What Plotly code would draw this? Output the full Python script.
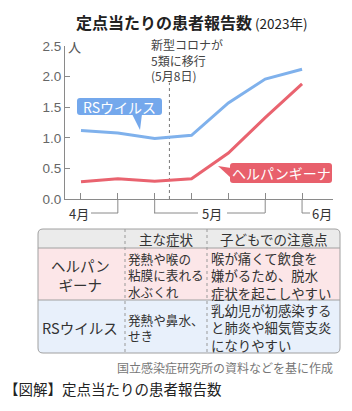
import plotly.graph_objects as go

# ---------------- data ----------------
weeks = [0, 1, 2, 3, 4, 5, 6]
rs_virus = [1.12, 1.08, 0.99, 1.04, 1.57, 1.96, 2.12]
herpangina = [0.28, 0.33, 0.29, 0.33, 0.75, 1.33, 1.88]
y_ticks = [0.0, 0.5, 1.0, 1.5, 2.0, 2.5]
y_tick_text = ["0.0", "0.5", "1.0", "1.5", "2.0", "2.5"]
month_labels = ["4月", "5月", "6月"]
covid_change_week = 2.4
covid_note = ["新型コロナが", "5類に移行", "(5月8日)"]
series_names = ["RSウイルス", "ヘルパンギーナ"]
table_header = ["", "主な症状", "子どもでの注意点"]
table_rows = [
    [["ヘルパン", "ギーナ"], ["発熱や喉の", "粘膜に表れる", "水ぶくれ"],
     ["喉が痛くて飲食を", "嫌がるため、脱水", "症状を起こしやすい"]],
    [["RSウイルス"], ["発熱や鼻水、", "せき"],
     ["乳幼児が初感染する", "と肺炎や細気管支炎", "になりやすい"]],
]
title_text = "定点当たりの患者報告数"
title_year = "(2023年)"
unit_text = "人"
source_text = "国立感染症研究所の資料などを基に作成"
caption_text = "【図解】定点当たりの患者報告数"

# ---------------- style ----------------
FONT = "Noto Sans CJK JP"
NUMFONT = "Liberation Sans"
BLUE = "#7fb1ec"
RED = "#e9636f"
BLUE_BOX = "#74a8ec"
RED_BOX = "#e8606c"
AXIS = "#8a8a8a"
L, R, T, B = 65, 333, 46, 199


def px(x):
    return (x - L) / (R - L)


def py(y):
    return (B - y) / (B - T)


def rrect(x0, y0, x1, y1, r=(0, 0, 0, 0)):
    tl, tr, br, bl = r
    pts = [f"M {px(x0 + tl)},{py(y0)}", f"L {px(x1 - tr)},{py(y0)}"]
    if tr:
        pts.append(f"Q {px(x1)},{py(y0)} {px(x1)},{py(y0 + tr)}")
    pts.append(f"L {px(x1)},{py(y1 - br)}")
    if br:
        pts.append(f"Q {px(x1)},{py(y1)} {px(x1 - br)},{py(y1)}")
    pts.append(f"L {px(x0 + bl)},{py(y1)}")
    if bl:
        pts.append(f"Q {px(x0)},{py(y1)} {px(x0)},{py(y1 - bl)}")
    pts.append(f"L {px(x0)},{py(y0 + tl)}")
    if tl:
        pts.append(f"Q {px(x0)},{py(y0)} {px(x0 + tl)},{py(y0)}")
    pts.append("Z")
    return " ".join(pts)


def tri(points):
    p = [f"{px(x)},{py(y)}" for x, y in points]
    return f"M {p[0]} L {p[1]} L {p[2]} Z"


fig = go.Figure()
fig.add_trace(go.Scatter(x=weeks, y=rs_virus, mode="lines", name=series_names[0],
                         line=dict(color=BLUE, width=3), hoverinfo="skip"))
fig.add_trace(go.Scatter(x=weeks, y=herpangina, mode="lines", name=series_names[1],
                         line=dict(color=RED, width=3), hoverinfo="skip"))

shapes = []
ann = []

# dashed line for May 8
shapes.append(dict(type="line", xref="x", yref="y", x0=covid_change_week, x1=covid_change_week,
                   y0=0, y1=1.9, line=dict(color="#777", width=1, dash="dot"), layer="below"))

# month brackets below axis
yb = py(213)
for xv in [1, 2, 5, 6]:
    shapes.append(dict(type="line", xref="x", yref="paper", x0=xv, x1=xv, y0=0, y1=yb,
                       line=dict(color=AXIS, width=1)))
for a, b in [(91, 118), (154, 198), (227, 265), (302, 310)]:
    shapes.append(dict(type="line", xref="paper", yref="paper", x0=px(a), x1=px(b), y0=yb, y1=yb,
                       line=dict(color=AXIS, width=1)))
for lab, cx in zip(month_labels, [79, 212, 322]):
    ann.append(dict(text=lab, xref="paper", yref="paper", x=px(cx), y=py(213.5), showarrow=False,
                    xanchor="center", yanchor="middle", font=dict(family=FONT, size=13, color="#333")))

# callout boxes
shapes.append(dict(type="path", xref="paper", yref="paper", path=rrect(77, 98, 162, 115, (3, 3, 3, 3)),
                   fillcolor=BLUE_BOX, line=dict(width=0)))
shapes.append(dict(type="path", xref="paper", yref="paper", path=tri([(132, 114), (142, 114), (140, 130)]),
                   fillcolor=BLUE_BOX, line=dict(width=0)))
ann.append(dict(text=series_names[0], xref="paper", yref="paper", x=px(119.5), y=py(106.5), showarrow=False,
                xanchor="center", yanchor="middle", font=dict(family=FONT, size=14, color="white")))
shapes.append(dict(type="path", xref="paper", yref="paper", path=rrect(230, 163, 332, 183, (3, 3, 3, 3)),
                   fillcolor=RED_BOX, line=dict(width=0)))
shapes.append(dict(type="path", xref="paper", yref="paper", path=tri([(231, 168), (231, 178), (218, 166)]),
                   fillcolor=RED_BOX, line=dict(width=0)))
ann.append(dict(text=series_names[1], xref="paper", yref="paper", x=px(281), y=py(173), showarrow=False,
                xanchor="center", yanchor="middle", font=dict(family=FONT, size=14, color="white")))

# covid note
ann.append(dict(text="<br>".join(covid_note), xref="paper", yref="paper", x=px(149), y=py(60),
                showarrow=False, align="left", xanchor="left", yanchor="middle",
                font=dict(family=FONT, size=12, color="#444")))

# unit
ann.append(dict(text=unit_text, xref="paper", yref="paper", x=px(74), y=py(46), showarrow=False,
                xanchor="center", yanchor="middle", font=dict(family=FONT, size=13, color="#555")))

# title
ann.append(dict(text=f"<b>{title_text}</b><span style='font-size:13.5px'> {title_year}</span>",
                xref="paper", yref="paper", x=px(74), y=py(22), showarrow=False,
                xanchor="left", yanchor="middle", font=dict(family=FONT, size=16, color="#222")))

# table
TX0, TX1, TY0, TH, TR1, TY1 = 38, 340, 229, 248, 300, 353
C1, C2 = 125, 207
shapes.append(dict(type="path", xref="paper", yref="paper", path=rrect(TX0, TY0, TX1, TH, (5, 5, 0, 0)),
                   fillcolor="#ebebeb", line=dict(width=0)))
shapes.append(dict(type="path", xref="paper", yref="paper", path=rrect(TX0, TH, TX1, TR1),
                   fillcolor="#fce6e8", line=dict(width=0)))
shapes.append(dict(type="path", xref="paper", yref="paper", path=rrect(TX0, TR1, TX1, TY1, (0, 0, 5, 5)),
                   fillcolor="#e8f0fb", line=dict(width=0)))
for yy in [TH, TR1]:
    shapes.append(dict(type="line", xref="paper", yref="paper", x0=px(TX0), x1=px(TX1), y0=py(yy), y1=py(yy),
                       line=dict(color="#a0a0a0", width=1)))
for xx in [C1, C2]:
    shapes.append(dict(type="line", xref="paper", yref="paper", x0=px(xx), x1=px(xx), y0=py(TY0), y1=py(TY1),
                       line=dict(color="#999", width=1, dash="dot")))
shapes.append(dict(type="path", xref="paper", yref="paper", path=rrect(TX0, TY0, TX1, TY1, (5, 5, 5, 5)),
                   fillcolor="rgba(0,0,0,0)", line=dict(color="#a0a0a0", width=1)))

for txt, cx in zip(table_header[1:], [166, 273]):
    ann.append(dict(text=txt, xref="paper", yref="paper", x=px(cx), y=py(238.5), showarrow=False,
                    xanchor="center", yanchor="middle", font=dict(family=FONT, size=13.5, color="#333")))

row_centers = [275, 327]
for row, yc in zip(table_rows, row_centers):
    for ci, cell in enumerate(row):
        if ci == 0:
            x, xa, fs = px(80), "center", 14.5
        elif ci == 1:
            x, xa, fs = px(126), "left", 12.6
        else:
            x, xa, fs = px(209), "left", 13.4
        ann.append(dict(text="<br>".join(cell), xref="paper", yref="paper", x=x, y=py(yc),
                        showarrow=False, align=xa, xanchor=xa, yanchor="middle",
                        font=dict(family=FONT, size=fs, color="#333")))

# source and caption
ann.append(dict(text=source_text, xref="paper", yref="paper", x=px(335), y=py(367), showarrow=False,
                xanchor="right", yanchor="middle", font=dict(family=FONT, size=12, color="#777")))
ann.append(dict(text=caption_text, xref="paper", yref="paper", x=px(2), y=py(388), showarrow=False,
                xanchor="left", yanchor="middle", font=dict(family=FONT, size=14.5, color="#222")))

fig.update_layout(
    width=352, height=411, autosize=False,
    margin=dict(l=L, r=352 - R, t=T, b=411 - B, pad=0),
    paper_bgcolor="white", plot_bgcolor="white",
    showlegend=False,
    shapes=shapes, annotations=ann,
    font=dict(family=FONT),
    xaxis=dict(range=[-0.434, 6.84], showgrid=False, zeroline=False, showline=True,
               linecolor=AXIS, linewidth=1.2, ticks="inside", ticklen=6, tickcolor=AXIS,
               tickvals=weeks, showticklabels=False, fixedrange=True),
    yaxis=dict(range=[0, 2.5], showgrid=False, zeroline=False, showline=True,
               linecolor=AXIS, linewidth=1.2, ticks="inside", ticklen=5, tickcolor=AXIS,
               tickvals=y_ticks, ticktext=y_tick_text,
               tickfont=dict(family=NUMFONT, size=13.5, color="#666"), fixedrange=True),
)

fig.write_html("out.html")
